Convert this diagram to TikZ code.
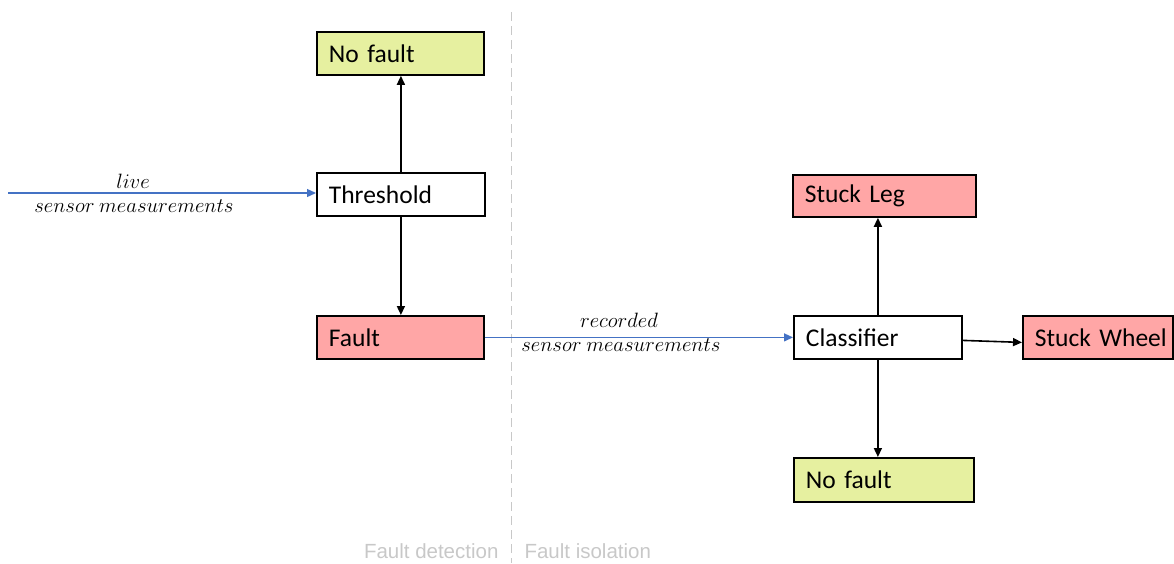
\documentclass[tikz,border=0pt]{standalone}
\usepackage{fontspec}
\setmainfont{Carlito}
\newfontfamily\labelfont{Liberation Sans}
\usetikzlibrary{arrows.meta}
\definecolor{okfill}{RGB}{230,240,160}
\definecolor{faultfill}{RGB}{255,166,166}
\definecolor{flowblue}{RGB}{68,114,196}
\definecolor{phasegray}{RGB}{200,200,200}
\tikzset{
  box/.style={draw=black, line width=1.8pt, anchor=north west, inner sep=0pt,
    inner xsep=12pt, align=left, font=\fontsize{25.5}{30}\selectfont},
  okbox/.style={box, fill=okfill},
  faultbox/.style={box, fill=faultfill},
  plainbox/.style={box, fill=white},
  link/.style={-{Triangle[length=9pt,width=8pt]}, line width=1.6pt, black},
  datalink/.style={-{Triangle[length=9pt,width=8pt]}, line width=1.3pt, flowblue},
  datalabel/.style={font=\fontsize{21}{24}\selectfont},
  phase/.style={font=\labelfont\fontsize{20.5}{24}\selectfont, text=phasegray}
}
\begin{document}
\begin{tikzpicture}[x=1pt, y=-1pt]
\useasboundingbox (0,0) rectangle (1174,563);
% stage divider
\draw[phasegray, dashed, dash pattern=on 9pt off 5pt, line width=1pt] (511,12) -- (511,563);
\node[phase, anchor=base east] (det) at (502,558) {Fault detection};
\node[phase, anchor=base west] (iso) at (521,558) {Fault isolation};
% detection stage
\node[okbox, minimum width=167pt, minimum height=43pt, text width=143pt] (nf1) at (316,31) {No fault};
\node[plainbox, minimum width=168pt, minimum height=43pt, text width=144pt] (thr) at (316,172) {Threshold};
\node[faultbox, minimum width=167pt, minimum height=43pt, text width=143pt] (flt) at (316,315) {Fault};
% isolation stage
\node[faultbox, minimum width=183pt, minimum height=42pt, text width=159pt] (leg) at (792,174) {Stuck Leg};
\node[plainbox, minimum width=168pt, minimum height=43pt, text width=144pt] (cls) at (793,315) {Classifier};
\node[faultbox, minimum width=150pt, minimum height=43pt, text width=150pt, inner xsep=0pt] (whl) at (1022,315) {\hspace*{12pt}Stuck Wheel};
\node[okbox, minimum width=180pt, minimum height=44pt, text width=156pt] (nf2) at (793,457) {No fault};
% inputs
\coordinate (src) at (8,193);
\draw[datalink] (src) -- (thr.west |- src);
\node[datalabel] (lv) at (133,181) {$live$};
\node[datalabel] (lvs) at (134,206) {$sensor\ measurements$};
\draw[datalink] (flt.east) -- (cls.west);
\node[datalabel] (rc) at (619,320) {$recorded$};
\node[datalabel] (rcs) at (621,345) {$sensor\ measurements$};
% decisions
\draw[link] (thr.north) -- (thr.north |- nf1.south);
\draw[link] (thr.south) -- (thr.south |- flt.north);
\draw[link] (cls.north) -- (cls.north |- leg.south);
\draw[link] (cls.south) -- (cls.south |- nf2.north);
\draw[link] ([yshift=-3pt]cls.east) -- ([yshift=-5pt]whl.west);
\end{tikzpicture}
\end{document}
